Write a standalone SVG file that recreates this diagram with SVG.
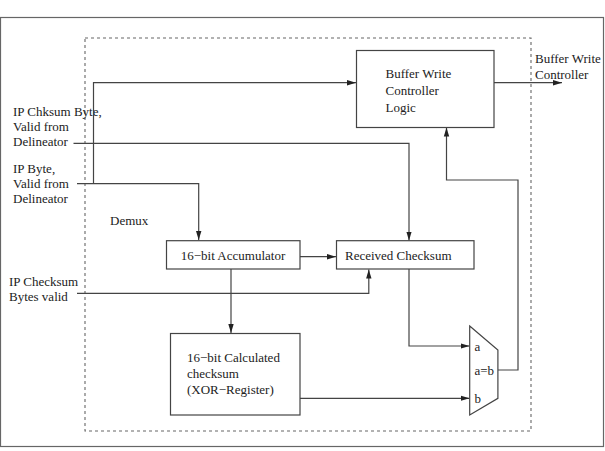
<svg xmlns="http://www.w3.org/2000/svg" width="605" height="451" viewBox="0 0 605 451">
<style>
text{font-family:"Liberation Serif","Times New Roman",serif;font-size:13px;fill:#222}
.box{fill:#fff;stroke:#444;stroke-width:1.2}
.ln{fill:none;stroke:#444;stroke-width:1.2}
</style>
<defs>
<marker id="ah" markerWidth="10" markerHeight="8" refX="9" refY="3.5" orient="auto" markerUnits="userSpaceOnUse">
<path d="M0,0.8 L9,3.5 L0,6.2 z" fill="#222"/>
</marker>
</defs>
<rect x="0.5" y="17.5" width="603" height="429" fill="#fff" stroke="#666" stroke-width="1.2"/>
<rect id="demux-boundary" x="85" y="38" width="446" height="393" fill="none" stroke="#666" stroke-width="1.1" stroke-dasharray="3,3"/>
<g id="labels">
<text x="13" y="116">IP Chksum Byte,</text>
<text x="13" y="131">Valid from</text>
<text x="13" y="146">Delineator</text>
<text x="13" y="173">IP Byte,</text>
<text x="13" y="188">Valid from</text>
<text x="13" y="203">Delineator</text>
<text x="110" y="225">Demux</text>
<text x="9" y="286">IP Checksum</text>
<text x="9" y="301">Bytes valid</text>
<text x="535" y="63">Buffer Write</text>
<text x="535" y="79">Controller</text>
</g>
<g id="connectors">
<polyline class="ln" points="77,183.7 198.7,183.7 198.7,240" marker-end="url(#ah)"/>
<polyline class="ln" points="93.5,183.7 93.5,82.7 356,82.7" marker-end="url(#ah)"/>
<polyline class="ln" points="73.5,143.3 409,143.3 409,240.5" marker-end="url(#ah)"/>
<polyline class="ln" points="77,293.3 368.8,293.3 368.8,269.5" marker-end="url(#ah)"/>
<line class="ln" x1="300" y1="256.7" x2="336" y2="256.7" marker-end="url(#ah)"/>
<line class="ln" x1="231" y1="269" x2="231" y2="333" marker-end="url(#ah)"/>
<polyline class="ln" points="409,269 409,346 469.5,346" marker-end="url(#ah)"/>
<line class="ln" x1="300" y1="398.3" x2="469.5" y2="398.3" marker-end="url(#ah)"/>
<polyline class="ln" points="498,370 518,370 518,180 446.5,180 446.5,127.5" marker-end="url(#ah)"/>
<line class="ln" x1="494" y1="82.7" x2="562" y2="82.7" marker-end="url(#ah)"/>
</g>
<g id="bwc">
<rect class="box" x="356.5" y="50.5" width="137.5" height="77"/>
<text x="385.5" y="78">Buffer Write</text>
<text x="385.5" y="95">Controller</text>
<text x="385.5" y="112">Logic</text>
</g>
<g id="accumulator">
<rect class="box" x="166.5" y="240.7" width="133.5" height="28.3"/>
<text x="233" y="260" text-anchor="middle">16−bit Accumulator</text>
</g>
<g id="received">
<rect class="box" x="336.5" y="240.7" width="137.5" height="28.3"/>
<text x="345" y="260">Received Checksum</text>
</g>
<g id="calculated">
<rect class="box" x="170.5" y="333.5" width="129.5" height="81.5"/>
<text x="187" y="362">16−bit Calculated</text>
<text x="187" y="378">checksum</text>
<text x="187" y="394">(XOR−Register)</text>
</g>
<g id="comparator">
<polygon class="box" points="469.7,326 497.9,350 497.9,398.3 469.7,415"/>
<text x="474.5" y="351">a</text>
<text x="474.5" y="374.5">a=b</text>
<text x="474.5" y="403">b</text>
</g>
</svg>
